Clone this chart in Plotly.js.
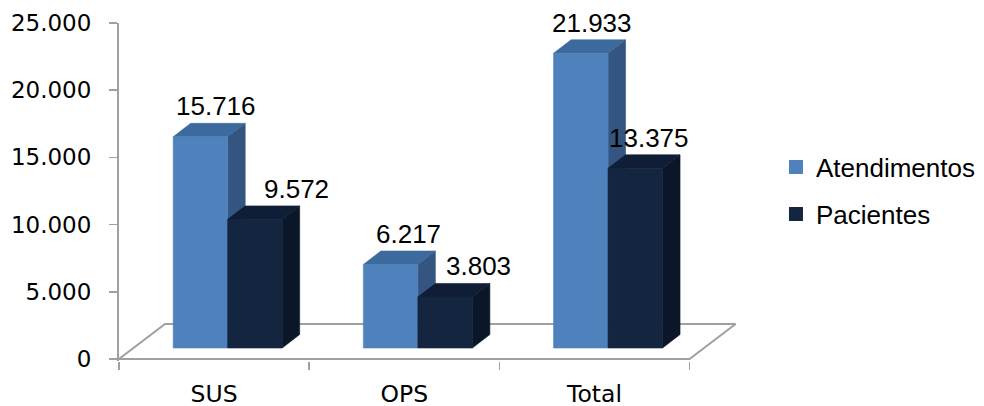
<!DOCTYPE html>
<html>
<head>
<meta charset="utf-8">
<script src="https://cdn.plot.ly/plotly-3.0.1.min.js"></script>
<style>html,body{margin:0;padding:0;background:#fff;}#chart{width:984px;height:406px;}</style>
</head>
<body>
<div id="chart"></div>
<script>
// ---- data ----
const categories = ['SUS', 'OPS', 'Total'];
const seriesNames = ['Atendimentos', 'Pacientes'];
const atendimentos = [15716, 6217, 21933];
const pacientes = [9572, 3803, 13375];
const yTickVals = [0, 5000, 10000, 15000, 20000, 25000];

// ---- geometry / style (layout only) ----
const BAR_W = 0.2865;     // bar width in category units
const SHIFT = 0.0715;     // perspective shift of bar group
const BASE = 817;         // front face base (perspective lift)
const DX = 0.092, DY = 1000;            // bar depth
const FLOOR_DX = 0.242, FLOOR_DY = 2600; // floor depth
const GRAY = '#a0a0a0';
const colors = [
  {front: '#4F81BD', top: '#3D6A9D', side: '#34557F'},
  {front: '#13253F', top: '#0F1E36', side: '#0B1729'}
];
const labelNudge = [[-2, 0, -6], [24, 16, -4]];

function fmt(v) { return String(v).replace(/\B(?=(\d{3})+(?!\d))/g, '.'); }

function faces(values, s) {
  const f = {front: {x: [], y: []}, top: {x: [], y: []}, side: {x: [], y: []}};
  values.forEach((v, i) => {
    const l = i + SHIFT + (s - 1) * BAR_W, r = l + BAR_W;
    const yb = BASE, yt = BASE + v;
    f.side.x.push(r, r + DX, r + DX, r, r, null);
    f.side.y.push(yb, yb + DY, yt + DY, yt, yb, null);
    f.top.x.push(l, r, r + DX, l + DX, l, null);
    f.top.y.push(yt, yt, yt + DY, yt + DY, yt, null);
    f.front.x.push(l, r, r, l, l, null);
    f.front.y.push(yb, yb, yt, yt, yb, null);
  });
  return f;
}

const traces = [];
// floor outline
traces.push({
  type: 'scatter', mode: 'lines', showlegend: false, hoverinfo: 'skip',
  x: [-0.5, categories.length - 0.5, categories.length - 0.5 + FLOOR_DX, -0.5 + FLOOR_DX, -0.5],
  y: [0, 0, FLOOR_DY, FLOOR_DY, 0],
  line: {color: GRAY, width: 2}
});

const allSeries = [atendimentos, pacientes];
allSeries.forEach((vals, s) => {
  const f = faces(vals, s);
  ['side', 'top', 'front'].forEach(k => {
    traces.push({
      type: 'scatter', mode: 'lines', fill: 'toself', showlegend: false, hoverinfo: 'skip',
      x: f[k].x, y: f[k].y,
      fillcolor: colors[s][k],
      line: {color: colors[s][k], width: 0.6}
    });
  });
});

// legend entries
allSeries.forEach((vals, s) => {
  traces.push({
    type: 'scatter', mode: 'markers', name: seriesNames[s], legendgroup: 'g' + s,
    x: [null], y: [null], hoverinfo: 'skip',
    marker: {symbol: 'square', size: 14, color: colors[s].front}
  });
});

// data labels
const annotations = [];
allSeries.forEach((vals, s) => {
  vals.forEach((v, i) => {
    const l = i + SHIFT + (s - 1) * BAR_W;
    annotations.push({
      x: l + DX + BAR_W / 2, y: BASE + v + DY, xref: 'x', yref: 'y',
      text: fmt(v), showarrow: false, xanchor: 'center', yanchor: 'middle',
      xshift: labelNudge[s][i], yshift: 17,
      font: {family: 'Liberation Sans, Arial, sans-serif', size: 26, color: '#000'}
    });
  });
});

const layout = {
  width: 984, height: 406, autosize: false,
  margin: {l: 119, r: 244.5, t: 22.5, b: 45, pad: 0, autoexpand: false},
  paper_bgcolor: '#fff', plot_bgcolor: 'rgba(0,0,0,0)',
  separators: ',.',
  showlegend: true,
  hovermode: false,
  legend: {
    xref: 'container', yref: 'container',
    x: 0.7886, xanchor: 'left', y: 0.646, yanchor: 'top',
    font: {family: 'Liberation Sans, Arial, sans-serif', size: 26, color: '#000'},
    tracegroupgap: 10, bgcolor: 'rgba(0,0,0,0)'
  },
  xaxis: {
    type: 'linear', range: [-0.5, 2.76], fixedrange: true,
    showline: false, showgrid: false, zeroline: false,
    tickmode: 'array', tickvals: [0, 1, 2], ticktext: categories,
    ticks: '', ticklabelstandoff: 16,
    tickfont: {family: 'DejaVu Sans, Tahoma, sans-serif', size: 23.5, color: '#000'},
    minor: {tickmode: 'array', tickvals: [-0.5, 0.5, 1.5, 2.5], ticks: 'outside', ticklen: 8, tickwidth: 1.5, tickcolor: GRAY, showgrid: false}
  },
  yaxis: {
    range: [-150, 25000], fixedrange: true,
    showline: true, linecolor: GRAY, linewidth: 2,
    showgrid: false, zeroline: false,
    tickmode: 'array', tickvals: yTickVals, tickformat: ',d',
    ticks: 'outside', ticklen: 8, tickwidth: 1.5, tickcolor: GRAY,
    ticklabelstandoff: 13,
    tickfont: {family: 'DejaVu Sans, Tahoma, sans-serif', size: 23, color: '#000'}
  },
  annotations: annotations
};

Plotly.newPlot('chart', traces, layout, {displayModeBar: false, staticPlot: true});
</script>
</body>
</html>
